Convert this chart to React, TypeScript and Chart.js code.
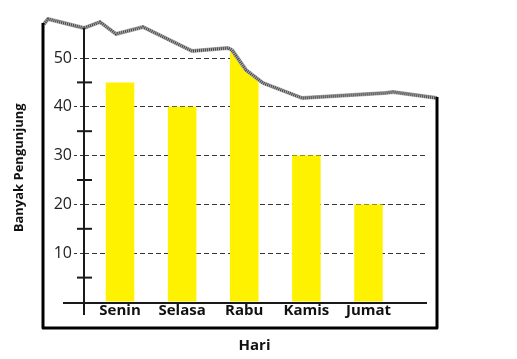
import React, { useEffect, useRef } from "react";
import { Chart, registerables } from "chart.js";

Chart.register(...registerables);

const days = ["Senin", "Selasa", "Rabu", "Kamis", "Jumat"];
const visitors = [45, 40, 55, 30, 20];
const yTickLabels = [10, 20, 30, 40, 50];
const xTitle = "Hari";
const yTitle = "Banyak Pengunjung";

// decorative torn-paper edge (canvas px)
const tearEdge: [number, number][] = [
  [44, 24], [48, 19], [84, 28], [100, 22], [108, 28], [116, 34], [143, 27],
  [192, 51], [228, 48], [232, 50], [246, 70], [263, 83], [302, 98],
  [385, 93], [393, 92], [437, 98],
];

const decorPlugin = {
  id: "decor",
  afterDraw(chart: any) {
    const ctx = chart.ctx;
    const ys = chart.scales.y;
    const area = chart.chartArea;
    const zeroY = ys.getPixelForValue(0);
    ctx.save();
    // white above tear
    ctx.beginPath();
    ctx.moveTo(tearEdge[0][0], 0);
    tearEdge.forEach(([x, y]) => ctx.lineTo(x, y));
    ctx.lineTo(tearEdge[tearEdge.length - 1][0], 0);
    ctx.closePath();
    ctx.fillStyle = "#ffffff";
    ctx.fill();
    // tear stroke
    ctx.beginPath();
    tearEdge.forEach(([x, y], i) => (i ? ctx.lineTo(x, y) : ctx.moveTo(x, y)));
    ctx.lineJoin = "round";
    ctx.strokeStyle = "#b0b0b0";
    ctx.lineWidth = 4;
    ctx.stroke();
    ctx.setLineDash([1, 1]);
    ctx.strokeStyle = "#444";
    ctx.lineWidth = 3;
    ctx.stroke();
    ctx.setLineDash([]);
    // y axis line
    ctx.strokeStyle = "#1a1a1a";
    ctx.lineWidth = 2;
    ctx.beginPath();
    ctx.moveTo(area.left, 28);
    ctx.lineTo(area.left, zeroY + 13);
    ctx.stroke();
    // x axis line
    ctx.beginPath();
    ctx.moveTo(area.left - 21, zeroY + 1);
    ctx.lineTo(area.right + 2, zeroY + 1);
    ctx.stroke();
    // minor ticks
    ys.ticks.forEach((t: any) => {
      if (t.value % 10 === 5 && t.value < 50) {
        const y = ys.getPixelForValue(t.value);
        ctx.beginPath();
        ctx.moveTo(area.left - 7, y);
        ctx.lineTo(area.left + 8, y);
        ctx.stroke();
      }
    });
    // frame
    ctx.strokeStyle = "#000";
    ctx.lineWidth = 3;
    ctx.beginPath();
    ctx.moveTo(43, 23);
    ctx.lineTo(43, 328);
    ctx.lineTo(437, 328);
    ctx.lineTo(437, 97);
    ctx.stroke();
    ctx.restore();
  },
};

export default function App() {
  const ref = useRef<HTMLCanvasElement>(null);
  useEffect(() => {
    if (!ref.current) return;
    Chart.defaults.font.family = "'Open Sans', sans-serif";
    const chart = new Chart(ref.current, {
      type: "bar",
      data: {
        datasets: [
          {
            data: days.map((_, i) => ({ x: i, y: visitors[i] })),
            backgroundColor: "#fff200",
            barPercentage: 0.46,
            categoryPercentage: 1,
          },
        ],
      },
      options: {
        responsive: false,
        animation: false,
        devicePixelRatio: 1,
        layout: { padding: { left: 0, right: 92, top: 33.6, bottom: 0 } },
        plugins: { legend: { display: false }, tooltip: { enabled: false } },
        scales: {
          x: {
            type: "linear",
            offset: false,
            min: -0.58,
            max: 4.91,
            afterFit: (s: any) => {
              s.height = 57;
            },
            afterBuildTicks: (s: any) => {
              s.ticks = days.map((_, i) => ({ value: i }));
            },
            grid: { display: false, drawTicks: false, offset: false },
            border: { display: false },
            ticks: {
              autoSkip: false,
              maxRotation: 0,
              padding: 0,
              color: "#111",
              font: { size: 15, weight: "bold" },
              callback: (v: any) => days[v] ?? "",
            },
            title: {
              display: true,
              text: xTitle,
              color: "#111",
              font: { size: 15, weight: "bold" },
              padding: { top: 0, bottom: 4 },
            },
          },
          y: {
            min: 0,
            max: 55,
            afterFit: (s: any) => {
              s.width = 84;
            },
            grid: {
              color: (c: any) =>
                yTickLabels.includes(c.tick?.value) ? "#333" : "rgba(0,0,0,0)",
              tickColor: (c: any) =>
                yTickLabels.includes(c.tick?.value) ? "#333" : "rgba(0,0,0,0)",
              lineWidth: 1,
              tickLength: 10,
              tickBorderDash: [3, 3],
            },
            border: { display: false, dash: [5, 3] },
            ticks: {
              stepSize: 5,
              autoSkip: false,
              padding: 2,
              color: "#222",
              font: { size: 16 },
              callback: (v: any) => (yTickLabels.includes(v) ? String(v) : ""),
            },
            title: {
              display: true,
              text: yTitle,
              color: "#111",
              font: { size: 13, weight: "bold" },
              padding: { top: 11, bottom: 0 },
            },
          },
        },
      },
      plugins: [decorPlugin],
    });
    return () => chart.destroy();
  }, []);
  return (
    <div style={{ position: "absolute", left: 0, top: 0, width: 517, height: 359 }}>
      <canvas ref={ref} width={517} height={359} style={{ display: "block" }} />
    </div>
  );
}
